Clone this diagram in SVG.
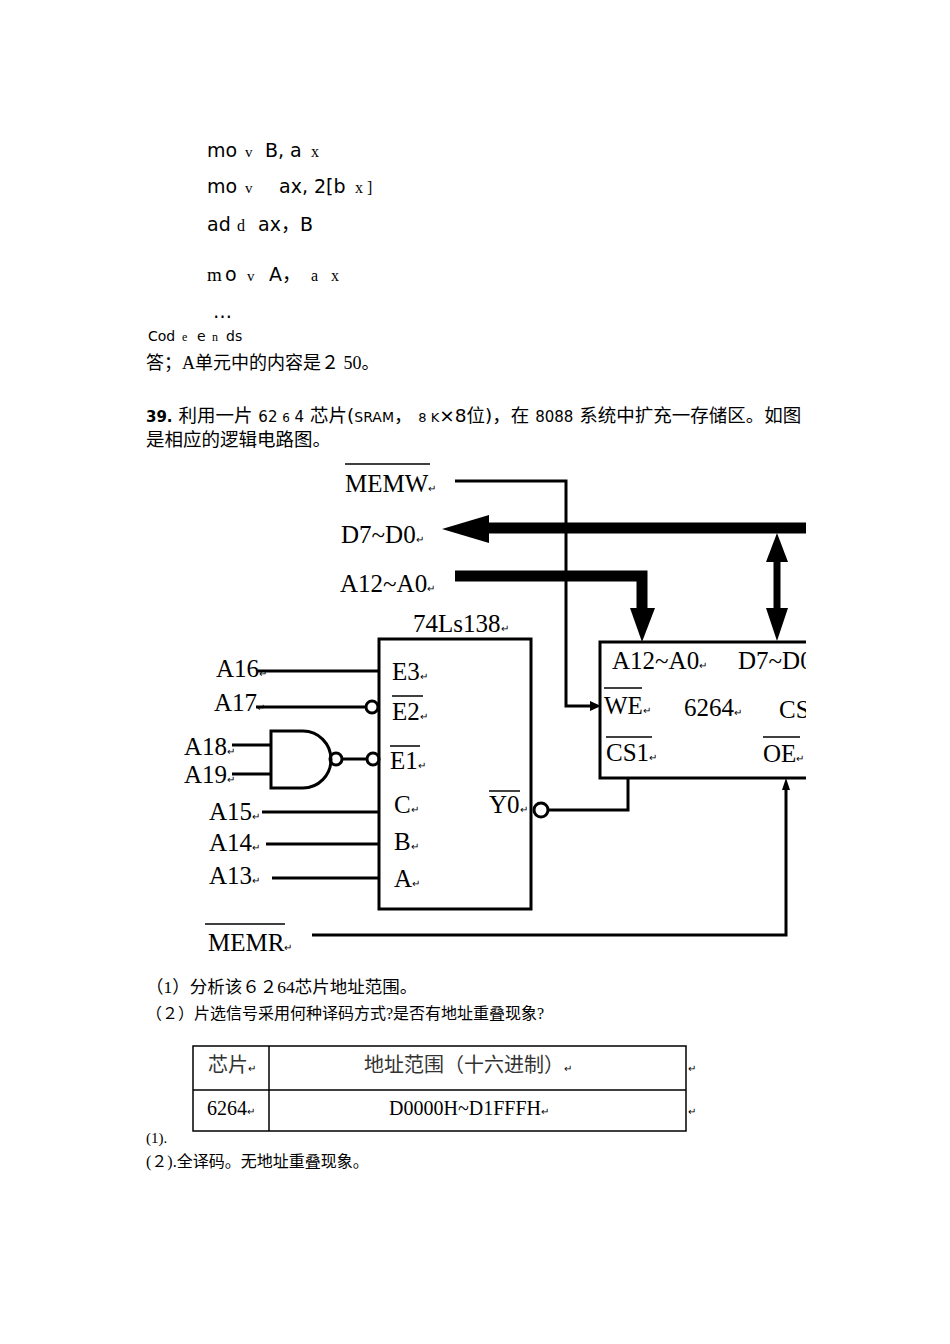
<svg xmlns="http://www.w3.org/2000/svg" width="950" height="1344" viewBox="0 0 950 1344">
<style>
.c{font-family:"DejaVu Sans","Noto Sans CJK SC",sans-serif;font-size:19px;fill:#000}
.s{font-family:"Liberation Serif","Noto Sans CJK SC",serif;font-size:18px;fill:#000}
.t{font-family:"Liberation Serif",serif;font-size:25px;fill:#000}
.r{font-family:"Liberation Serif",serif;font-size:10px;fill:#000}
.w{stroke:#000;stroke-width:3;fill:none}
.ol{stroke:#000;stroke-width:1.5}
</style>
<defs><clipPath id="cp"><rect x="0" y="0" width="806" height="1344"/></clipPath></defs>
<rect width="950" height="1344" fill="#fff"/>
<g id="code">
<text class="c" y="157"><tspan x="207">mo</tspan><tspan x="245" class="s" style="font-size:15px">v</tspan><tspan x="265">B, a</tspan><tspan x="311" class="s" style="font-size:16px">x</tspan></text>
<text class="c" y="193"><tspan x="207">mo</tspan><tspan x="245" class="s" style="font-size:15px">v</tspan><tspan x="279">ax, 2[b</tspan><tspan x="355" class="s" style="font-size:16px">x ]</tspan></text>
<text class="c" y="231"><tspan x="207">ad</tspan><tspan x="237" class="s" style="font-size:16px">d</tspan><tspan x="258">ax，B</tspan></text>
<text class="c" y="281"><tspan x="207" class="s" style="font-size:19px">m</tspan><tspan x="225">o</tspan><tspan x="247" class="s" style="font-size:15px">v</tspan><tspan x="269">A，</tspan><tspan x="311" class="s" style="font-size:16px">a</tspan><tspan x="331" class="s" style="font-size:16px">x</tspan></text>
<text class="c" x="213" y="318">…</text>
<text class="c" style="font-size:14px" y="341"><tspan x="148">Cod</tspan><tspan x="182" class="s" style="font-size:12px">e</tspan><tspan x="197">e</tspan><tspan x="212" class="s" style="font-size:12px">n</tspan><tspan x="226">ds</tspan></text>
<text class="s" x="146" y="369">答；A单元中的内容是２ 50。</text>
<text class="c" x="146" y="422" style="font-size:18.5px"><tspan style="font-weight:bold;font-size:15px">39.</tspan> 利用一片 <tspan style="font-size:15px">62 </tspan><tspan style="font-size:12px">6</tspan><tspan style="font-size:15px"> 4</tspan> 芯片(<tspan style="font-size:14px">SRAM</tspan>， <tspan style="font-size:13px">8 K</tspan>×8位)，在 <tspan style="font-size:15px">8088</tspan> 系统中扩充一存储区。如图</text>
<text class="c" x="146" y="446" style="font-size:18.5px">是相应的逻辑电路图。</text>
</g>
<g clip-path="url(#cp)">
<g id="connectors">
<polyline class="w" points="455,481 566,481 566,706 592,706"/>
<path d="M590,701 L601,706 L590,711 z"/>
<line x1="486" y1="528" x2="810" y2="528" stroke="#000" stroke-width="11"/>
<path d="M442,529 L489,515 L489,543 z"/>
<polyline points="455,576 642,576 642,612" fill="none" stroke="#000" stroke-width="11"/>
<path d="M630,608 L655,608 L642,642 z"/>
<line x1="777" y1="558" x2="777" y2="612" stroke="#000" stroke-width="7"/>
<path d="M766,562 L788,562 L777,533 z"/>
<path d="M766,608 L788,608 L777,641 z"/>
<line class="w" x1="258" y1="671" x2="379" y2="671"/>
<line class="w" x1="256" y1="707" x2="366" y2="707"/>
<line class="w" x1="232" y1="745" x2="271" y2="745"/>
<line class="w" x1="232" y1="774" x2="271" y2="774"/>
<line class="w" x1="342" y1="759" x2="366" y2="759"/>
<line class="w" x1="262" y1="812" x2="379" y2="812"/>
<line class="w" x1="266" y1="844" x2="379" y2="844"/>
<line class="w" x1="272" y1="878" x2="379" y2="878"/>
<polyline class="w" points="549,810 628,810 628,778"/>
<polyline class="w" points="312,935 786,935 786,788"/>
<path d="M782,790 L786,778 L790,790 z"/>
</g>
<g id="ic138">
<rect class="w" x="379" y="639" width="152" height="270"/>
<text class="t" x="413" y="632">74Ls138<tspan class="r">↵</tspan></text>
<text class="t" x="392" y="680">E3<tspan class="r">↵</tspan></text>
<text class="t" x="392" y="720">E2<tspan class="r">↵</tspan></text><line class="ol" x1="392" y1="696" x2="423" y2="696"/>
<text class="t" x="390" y="769">E1<tspan class="r">↵</tspan></text><line class="ol" x1="390" y1="746" x2="420" y2="746"/>
<text class="t" x="394" y="813">C<tspan class="r">↵</tspan></text>
<text class="t" x="394" y="850">B<tspan class="r">↵</tspan></text>
<text class="t" x="394" y="887">A<tspan class="r">↵</tspan></text>
<text class="t" x="489" y="813">Y0<tspan class="r">↵</tspan></text><line class="ol" x1="489" y1="791" x2="520" y2="791"/>
<circle class="w" cx="372" cy="707" r="6" fill="#fff"/>
<circle class="w" cx="373" cy="759" r="6" fill="#fff"/>
<circle class="w" cx="541" cy="810" r="7" fill="#fff"/>
</g>
<g id="nand">
<path class="w" d="M271,731 L303,731 A28,28.5 0 0 1 303,788 L271,788 z"/>
<circle class="w" cx="336" cy="759" r="6" fill="#fff"/>
</g>
<g id="ic6264">
<rect class="w" x="600" y="642" width="220" height="136"/>
<text class="t" x="612" y="669">A12~A0<tspan class="r">↵</tspan></text>
<text class="t" x="738" y="669">D7~D0</text>
<text class="t" x="604" y="714">WE<tspan class="r">↵</tspan></text><line class="ol" x1="604" y1="688" x2="642" y2="688"/>
<text class="t" x="684" y="716">6264<tspan class="r">↵</tspan></text>
<text class="t" x="779" y="718">CS</text>
<text class="t" x="606" y="761">CS1<tspan class="r">↵</tspan></text><line class="ol" x1="606" y1="737" x2="652" y2="737"/>
<text class="t" x="763" y="762">OE<tspan class="r">↵</tspan></text><line class="ol" x1="763" y1="737" x2="800" y2="737"/>
</g>
</g>
<g id="labels">
<text class="t" x="345" y="492">MEMW<tspan class="r">↵</tspan></text><line class="ol" x1="345" y1="464" x2="430" y2="464"/>
<text class="t" x="341" y="543">D7~D0<tspan class="r">↵</tspan></text>
<text class="t" x="340" y="592">A12~A0<tspan class="r">↵</tspan></text>
<text class="t" x="216" y="677">A16<tspan class="r">↵</tspan></text>
<text class="t" x="214" y="711">A17<tspan class="r">↵</tspan></text>
<text class="t" x="184" y="755">A18<tspan class="r">↵</tspan></text>
<text class="t" x="184" y="783">A19<tspan class="r">↵</tspan></text>
<text class="t" x="209" y="820">A15<tspan class="r">↵</tspan></text>
<text class="t" x="209" y="851">A14<tspan class="r">↵</tspan></text>
<text class="t" x="209" y="884">A13<tspan class="r">↵</tspan></text>
<text class="t" x="208" y="951">MEMR<tspan class="r">↵</tspan></text><line class="ol" x1="205" y1="924" x2="285" y2="924"/>
</g>
<g id="questions">
<text class="s" x="146" y="993" style="font-size:17.5px">（1）分析该６２64芯片地址范围。</text>
<text class="s" x="146" y="1019" style="font-size:16px">（２）片选信号采用何种译码方式?是否有地址重叠现象?</text>
</g>
<g id="table">
<rect x="193" y="1046" width="493" height="85" fill="none" stroke="#000" stroke-width="1.5"/>
<line x1="193" y1="1090" x2="686" y2="1090" stroke="#000" stroke-width="1.5"/>
<line x1="269" y1="1046" x2="269" y2="1131" stroke="#000" stroke-width="1.5"/>
<text class="s" x="208" y="1072" style="font-size:20px;fill:#333">芯片<tspan class="r">↵</tspan></text>
<text class="s" x="364" y="1072" style="font-size:20px;fill:#333">地址范围（十六进制）<tspan class="r">↵</tspan></text>
<text class="s" x="207" y="1115" style="font-size:20px">6264<tspan class="r">↵</tspan></text>
<text class="s" x="389" y="1115" style="font-size:20px">D0000H~D1FFFH<tspan class="r">↵</tspan></text>
<text class="r" x="688" y="1072">↵</text>
<text class="r" x="688" y="1115">↵</text>
</g>
<text class="s" x="146" y="1143" style="font-size:15px">(1).</text>
<text class="s" x="146" y="1167" style="font-size:16px">(２).全译码。无地址重叠现象。</text>
</svg>
